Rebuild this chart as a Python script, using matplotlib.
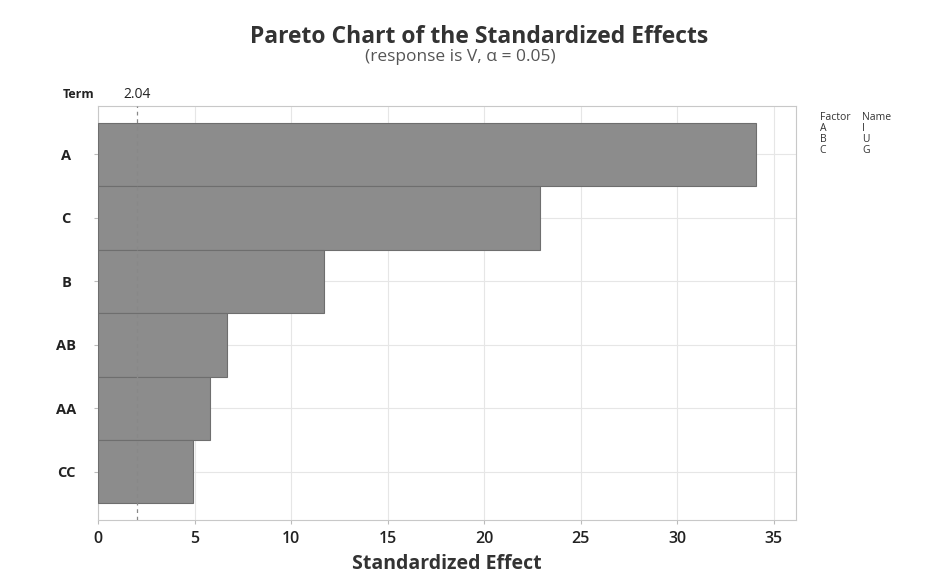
import matplotlib.pyplot as plt

plt.rcParams['font.family'] = ['Open Sans', 'DejaVu Sans']

# data
terms = ['A', 'C', 'B', 'AB', 'AA', 'CC']
effects = [34.1, 22.9, 11.7, 6.7, 5.8, 4.9]
crit = 2.04
xticks = [0, 5, 10, 15, 20, 25, 30, 35]
factors = ['A', 'B', 'C']
names = ['I', 'U', 'G']

fig = plt.figure(figsize=(9.4, 5.85), dpi=100)
ax = fig.add_axes([0.1043, 0.1111, 0.7425, 0.7077])

ypos = list(range(len(terms)))
ax.barh(ypos, effects, height=1.0, color='#8c8c8c', edgecolor='#6e6e6e',
        linewidth=0.8, zorder=3)
ax.set_ylim(len(terms) - 0.24, -0.76)
ax.set_xlim(0, 36.15)
ax.set_yticks(ypos)
ax.set_yticklabels(terms, fontsize=10.5, fontweight='bold', color='#222222',
                   ha='center')
ax.set_xticks(xticks)
ax.set_xticklabels([str(t) for t in xticks], fontsize=11.5, fontweight='semibold',
                   color='#222222')
ax.tick_params(axis='both', length=3, color='#bbbbbb', pad=5)
ax.tick_params(axis='y', pad=20)
ax.grid(True, color='#e6e6e6', linewidth=0.8, zorder=0)
for s in ax.spines.values():
    s.set_color('#c8c8c8')

ax.axvline(crit, color='#888888', linestyle=(0, (3, 3)), linewidth=0.9, zorder=4)
ax.text(crit, 1.01, f'{crit:.2f}', transform=ax.get_xaxis_transform(),
        ha='center', va='bottom', fontsize=10, color='#222222')
ax.text(-0.05, 1.012, 'Term', transform=ax.transAxes, ha='left', va='bottom',
        fontsize=9, fontweight='bold', color='#222222')

ax.set_xlabel('Standardized Effect', fontsize=14, fontweight='bold',
              color='#333333', labelpad=5)

fig.text(0.51, 0.937, 'Pareto Chart of the Standardized Effects', ha='center',
         va='center', fontsize=16.5, fontweight='bold', color='#333333')
fig.text(0.49, 0.903, '(response is V, \u03b1 = 0.05)', ha='center',
         va='center', fontsize=12.5, color='#555555')

# factor / name table
fig.text(0.872, 0.80, 'Factor', fontsize=7.5, color='#333333', va='center')
fig.text(0.917, 0.80, 'Name', fontsize=7.5, color='#333333', va='center')
for i, (f, n) in enumerate(zip(factors, names)):
    y = 0.80 - 0.019 * (i + 1)
    fig.text(0.872, y, f, fontsize=7.5, color='#333333', va='center')
    fig.text(0.917, y, n, fontsize=7.5, color='#333333', va='center')

fig.savefig('out.png', dpi=100)
